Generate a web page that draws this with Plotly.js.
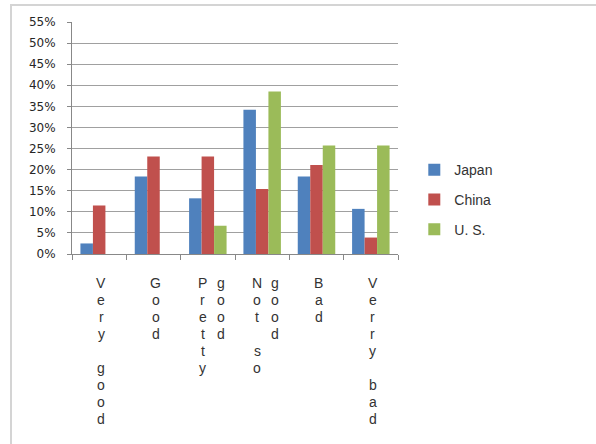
<!DOCTYPE html>
<html>
<head>
<meta charset="utf-8">
<script src="https://cdn.plot.ly/plotly-3.0.1.min.js"></script>
<style>
  html, body { margin: 0; padding: 0; background: #ffffff; }
  #wrap { position: relative; width: 596px; height: 444px; overflow: hidden; }
  #chart { position: absolute; left: 0; top: 0; width: 596px; height: 444px; }
  #frame { position: absolute; left: 10px; top: 4px; width: 640px; height: 500px;
           border: 2px solid #d4d4d4; box-sizing: border-box; pointer-events: none; }
</style>
</head>
<body>
<div id="wrap">
  <div id="chart"></div>
  <div id="frame"></div>
</div>
<script>
// Categories (as shown, one label column per entry)
const categories = ["Very good", "Good", "Pretty good", "Not so good", "Bad", "Verry bad"];
const labelColumns = [["Very good"], ["Good"], ["Pretty", "good"], ["Not so", "good"], ["Bad"], ["Verry bad"]];
const seriesNames = ["Japan", "China", "U. S."];
const japan = [0.025, 0.184, 0.132, 0.342, 0.184, 0.107];
const china = [0.115, 0.231, 0.231, 0.154, 0.211, 0.039];
const us    = [0, 0, 0.067, 0.385, 0.257, 0.257];
const colors = ["#4F81BD", "#C0504D", "#9BBB59"];
const yTickVals = [0, 0.05, 0.10, 0.15, 0.20, 0.25, 0.30, 0.35, 0.40, 0.45, 0.50, 0.55];

const values = [japan, china, us];
const traces = values.map((v, i) => ({
  type: "bar",
  name: seriesNames[i],
  x: categories,
  y: v,
  legendgroup: "g" + i,
  marker: { color: colors[i], line: { width: 0 } },
  hoverinfo: "x+y+name"
}));

const labelFont = { family: "Liberation Sans, Arial, sans-serif", size: 14, color: "#333333" };
const legendFont = { family: "Liberation Sans, Arial, sans-serif", size: 14, color: "#333333" };

// vertical stacked-letter category labels: one letter per line, 17px line pitch
const colOffsets = { 1: [2], 2: [-5, 13] };
const linePitch = 17;
const firstLineShift = -29;
const annotations = [];
labelColumns.forEach((cols, ci) => {
  cols.forEach((txt, k) => {
    txt.split("").forEach((ch, li) => {
      if (ch === " ") return;
      annotations.push({
        xref: "x", yref: "paper",
        x: categories[ci], y: 0,
        xanchor: "center", yanchor: "middle",
        xshift: colOffsets[cols.length][k],
        yshift: firstLineShift - linePitch * li,
        text: ch,
        showarrow: false,
        borderpad: 0,
        font: labelFont
      });
    });
  });
});

const layout = {
  width: 596, height: 444,
  margin: { l: 72, r: 198, t: 22, b: 190 },
  paper_bgcolor: "rgba(0,0,0,0)",
  plot_bgcolor: "rgba(0,0,0,0)",
  barmode: "group",
  bargap: 0.31,
  bargroupgap: 0,
  showlegend: true,
  legend: {
    x: 1.05, xanchor: "left",
    y: 0.43, yanchor: "top",
    tracegroupgap: 8.5,
    font: legendFont,
    bgcolor: "rgba(0,0,0,0)"
  },
  xaxis: {
    type: "category",
    showticklabels: false,
    showline: true, linecolor: "#888888", linewidth: 1,
    ticks: "outside", tickson: "boundaries", ticklen: 5, tickcolor: "#888888",
    showgrid: false, zeroline: false, fixedrange: true
  },
  yaxis: {
    range: [0, 0.55],
    tickvals: yTickVals,
    tickformat: ".0%",
    showline: true, linecolor: "#888888", linewidth: 1,
    ticks: "outside", ticklen: 4, tickcolor: "#888888",
    ticklabelstandoff: 9,
    showgrid: true, gridcolor: "#a0a0a0", gridwidth: 1,
    zeroline: false,
    tickfont: { family: "DejaVu Sans, sans-serif", size: 12, color: "#262626" },
    fixedrange: true
  },
  annotations: annotations
};

Plotly.newPlot("chart", traces, layout, { displayModeBar: false, staticPlot: true });
</script>
</body>
</html>
